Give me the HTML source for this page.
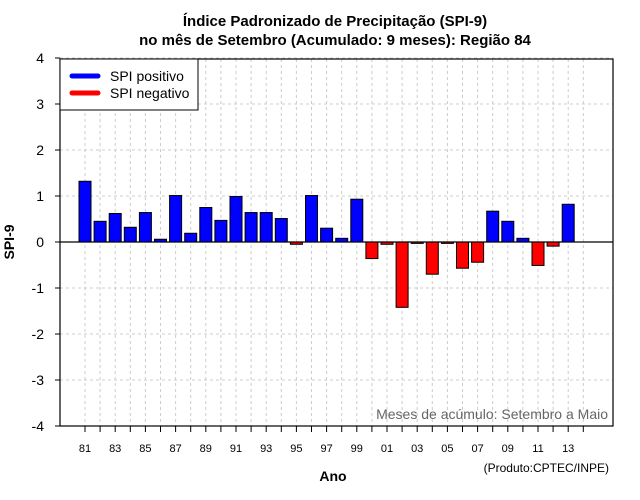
<!DOCTYPE html>
<html><head><meta charset="utf-8"><style>
body{margin:0;background:#fff}
svg{display:block;font-family:"Liberation Sans",Arial,sans-serif}
</style></head><body>
<svg id="chart" width="640" height="500">
<text x="335" y="26" text-anchor="middle" font-size="15" font-weight="bold">Índice Padronizado de Precipitação (SPI-9)</text>
<text x="335" y="45" text-anchor="middle" font-size="15" font-weight="bold">no mês de Setembro (Acumulado: 9 meses): Região 84</text>
<g id="grid"></g>
<g id="bars"></g>
<g id="axes"></g>
<rect x="60" y="59" width="553" height="367" fill="none" stroke="#000" stroke-width="1.2"/>
<g>
<rect x="60" y="59" width="138" height="51" fill="#fff" stroke="#000"/>
<line x1="72" y1="76" x2="98" y2="76" stroke="#00f" stroke-width="5" stroke-linecap="round"/>
<text x="110" y="81" font-size="14">SPI positivo</text>
<line x1="72" y1="93" x2="98" y2="93" stroke="#f00" stroke-width="5" stroke-linecap="round"/>
<text x="110" y="98" font-size="14">SPI negativo</text>
</g>
<text x="608" y="419" text-anchor="end" font-size="14" fill="#666">Meses de acúmulo: Setembro a Maio</text>
<text x="333" y="481" text-anchor="middle" font-size="14" font-weight="bold">Ano</text>
<text x="14" y="242" text-anchor="middle" font-size="14" font-weight="bold" transform="rotate(-90 14 242)">SPI-9</text>
<text x="609" y="472" text-anchor="end" font-size="12">(Produto:CPTEC/INPE)</text>
</svg>
<script>
const years = [1981,1982,1983,1984,1985,1986,1987,1988,1989,1990,1991,1992,1993,1994,1995,1996,1997,1998,1999,2000,2001,2002,2003,2004,2005,2006,2007,2008,2009,2010,2011,2012,2013];
const spiValues = [1.32,0.45,0.62,0.32,0.64,0.06,1.01,0.19,0.75,0.47,0.99,0.64,0.64,0.51,-0.05,1.01,0.30,0.08,0.93,-0.36,-0.05,-1.42,-0.03,-0.70,-0.03,-0.57,-0.44,0.67,0.45,0.08,-0.51,-0.09,0.82];
const yTicks = [-4,-3,-2,-1,0,1,2,3,4];
const xLabelYears = [1981,1983,1985,1987,1989,1991,1993,1995,1997,1999,2001,2003,2005,2007,2009,2011,2013];
const tickYears = [1981,1982,1983,1984,1985,1986,1987,1988,1989,1990,1991,1992,1993,1994,1995,1996,1997,1998,1999,2000,2001,2002,2003,2004,2005,2006,2007,2008,2009,2010,2011,2012,2013,2014];
const NS='http://www.w3.org/2000/svg';
const xS = y => 85 + (y-1981)*15.1;
const yS = v => 242 - v*46;
function mk(tag, attrs, parent){const e=document.createElementNS(NS,tag);for(const k in attrs)e.setAttribute(k,attrs[k]);parent.appendChild(e);return e;}
const grid=document.getElementById('grid'), bars=document.getElementById('bars'), axes=document.getElementById('axes');
yTicks.forEach(t=>{
  const l=mk('line',{x1:60,x2:613,y1:yS(t),y2:yS(t),stroke:'#ccc','stroke-dasharray':'3,3'},grid);
  
  
  const tk=mk('line',{x1:55,x2:60,y1:yS(t),y2:yS(t),stroke:'#000'},axes);
  
  
  const tx=mk('text',{x:44,y:yS(t)+5,'text-anchor':'end','font-size':14},axes);
  tx.textContent=t;
  
  
});
tickYears.forEach(y=>{
  const l=mk('line',{x1:xS(y),x2:xS(y),y1:59,y2:426,stroke:'#ccc','stroke-dasharray':'3,3'},grid);
  
  
  const tk=mk('line',{x1:xS(y),x2:xS(y),y1:426,y2:432,stroke:'#000'},axes);
  
  
});
xLabelYears.forEach(y=>{
  const tx=mk('text',{x:xS(y),y:452,'text-anchor':'middle','font-size':11},axes);
  tx.textContent=String(y).slice(2);
  
  
});
const zl=mk('line',{x1:60,x2:613,y1:yS(0),y2:yS(0),stroke:'#000','stroke-width':1.2},axes);


years.forEach((y,i)=>{
  const v=spiValues[i];
  const top=Math.min(yS(v),yS(0)), h=Math.max(Math.abs(yS(v)-yS(0)),1);
  const r=mk('rect',{x:xS(y)-6,y:top,width:12,height:h,fill:v>=0?'#00f':'#f00',stroke:'#000','stroke-width':1},bars);
  
  
});
</script>
</body></html>
